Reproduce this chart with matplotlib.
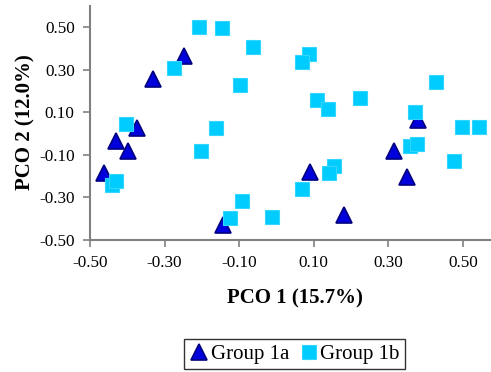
import matplotlib.pyplot as plt
import numpy as np

# Daten
g1a_x = [-0.249, -0.330, -0.373, -0.430, -0.399, -0.462, -0.142,
         0.091, 0.181, 0.315, 0.349, 0.381]
g1a_y = [0.363, 0.258, 0.028, -0.036, -0.083, -0.183, -0.430,
         -0.181, -0.385, -0.083, -0.205, 0.063]

g1b_x = [-0.207, -0.147, -0.276, -0.097, -0.403, -0.161, -0.201, -0.440,
         -0.430, -0.091, -0.124, -0.064, 0.087, 0.068, 0.109, 0.139,
         0.224, 0.429, 0.371, 0.497, 0.544, 0.358, 0.378, 0.477,
         0.154, 0.141, 0.068, -0.013]
g1b_y = [0.500, 0.495, 0.307, 0.228, 0.047, 0.024, -0.083, -0.240,
         -0.225, -0.315, -0.398, 0.406, 0.373, 0.336, 0.157, 0.116,
         0.168, 0.242, 0.100, 0.031, 0.031, -0.060, -0.050, -0.127,
         -0.151, -0.183, -0.259, -0.392]

ticks = [-0.5, -0.3, -0.1, 0.1, 0.3, 0.5]

plt.rcParams['font.family'] = 'Liberation Serif'

fig = plt.figure(figsize=(4.91, 3.72), dpi=100)
ax = fig.add_axes([0.1833, 0.355, 0.82, 0.629])

ax.plot(g1a_x, g1a_y, linestyle='none', marker='^', markersize=11.5,
        markerfacecolor='#0000DD', markeredgecolor='#000080',
        markeredgewidth=1.2, label='Group 1a')
ax.plot(g1b_x, g1b_y, linestyle='none', marker='s', markersize=10.5,
        markerfacecolor='#00CCFF', markeredgecolor='#33D6FF',
        markeredgewidth=0.8, label='Group 1b')

ax.set_xlim(-0.5, 0.58)
ax.set_ylim(-0.5, 0.6)
ax.set_xticks(ticks)
ax.set_yticks(ticks)
ax.set_xticklabels([f'{t:.2f}' for t in ticks], fontsize=12.3)
ax.set_yticklabels([f'{t:.2f}' for t in ticks], fontsize=12.3)

for s in ['top', 'right']:
    ax.spines[s].set_visible(False)
for s in ['left', 'bottom']:
    ax.spines[s].set_color('#808080')
    ax.spines[s].set_linewidth(1.5)
ax.tick_params(direction='out', length=5, color='#808080', width=1.2, pad=6)

fig.text(0.6, 1 - 298 / 372, 'PCO 1 (15.7%)', ha='center', va='center',
         fontsize=15, fontweight='bold')
fig.text(25 / 491, 1 - 122 / 372, 'PCO 2 (12.0%)', ha='center', va='center',
         fontsize=15, fontweight='bold', rotation=90)

leg = fig.legend(loc='center', bbox_to_anchor=(0.6, 0.048), ncol=2,
                 fontsize=15, frameon=True, fancybox=False,
                 handletextpad=0.1, columnspacing=0.5, handlelength=0.9,
                 borderpad=0.25, borderaxespad=0)
leg.get_frame().set_edgecolor('black')
leg.get_frame().set_linewidth(1.0)

plt.savefig('out.png', dpi=100)
